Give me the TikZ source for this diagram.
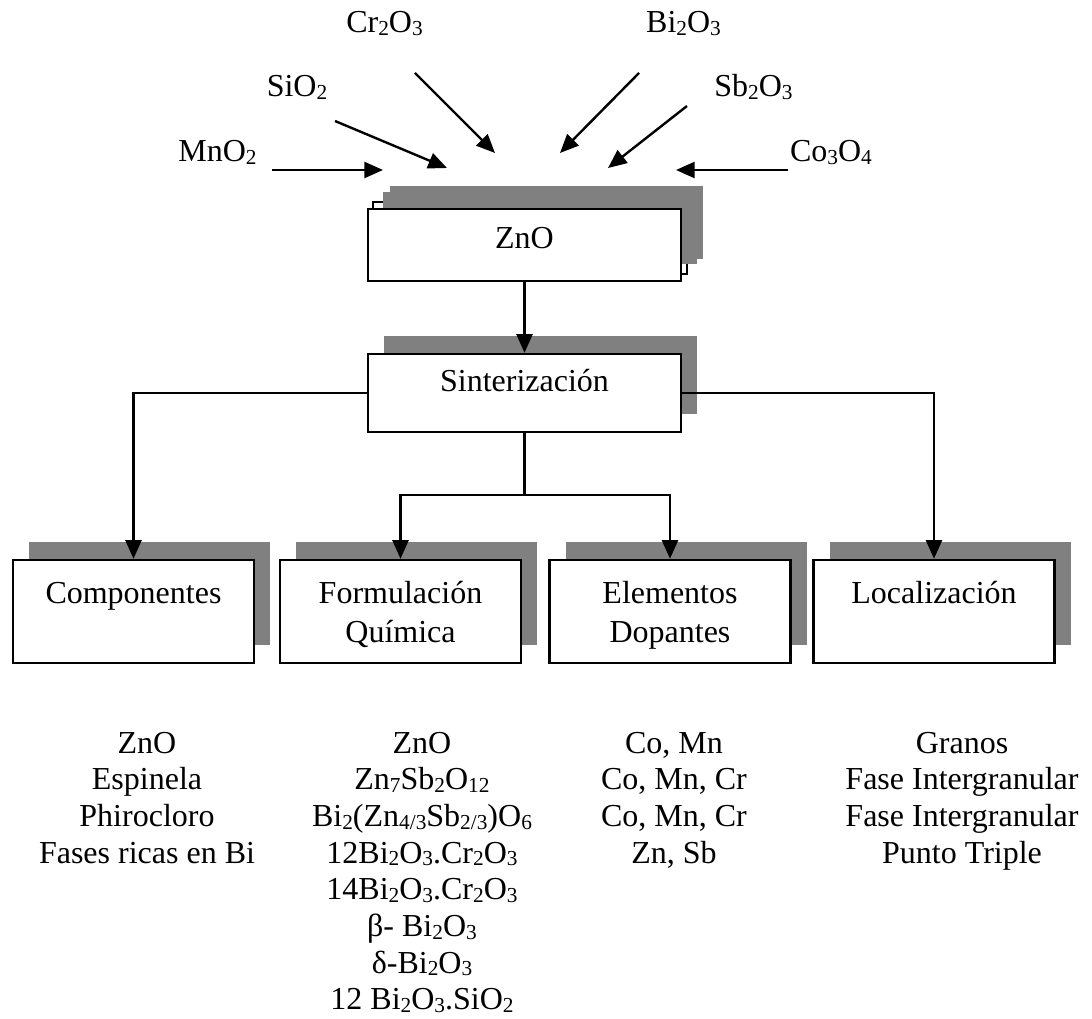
\documentclass[tikz,border=0pt]{standalone}
\usepackage{fontspec}
\setmainfont{Liberation Serif}
\usetikzlibrary{arrows.meta,shadows}
% chemical subscript: smaller digits, slightly lowered
\newcommand\chsub[1]{\raisebox{-2.2pt}{\fontsize{16}{16}\selectfont #1}}
\newcommand\stack[1]{\begin{tabular}[t]{@{}c@{}}#1\end{tabular}}
\begin{document}
\begin{tikzpicture}[x=0.75pt,y=-0.75pt,
  every node/.style={inner sep=0pt},
  lbl/.style={font=\fontsize{24}{29}\selectfont, anchor=base},
  col/.style={font=\fontsize{24}{27.5}\selectfont, anchor=base},
  box/.style={draw=black, line width=1.8pt, fill=white,
    font=\fontsize{24}{29.25}\selectfont},
  shadowed/.style={general shadow={fill=gray, shadow xshift=12pt, shadow yshift=13.5pt}},
  bigbox/.style={box, minimum width=234.75pt},
  smallbox/.style={box, shadowed, minimum width=180.75pt, text height=32.25pt, text depth=45pt},
  link/.style={line width=1.8pt, -{Triangle[length=14pt,width=12pt]}},
  plain/.style={line width=1.8pt},
]
\useasboundingbox (0,0) rectangle (1092,1019);

% stacked layers behind the ZnO box
\draw[line width=1pt, fill=white] (373,202) rectangle (687,274);
\fill[gray] (390,186) rectangle (703,259);
\fill[gray] (383,192) rectangle (697,264);
\node[bigbox, text height=30pt, text depth=24pt] (zno) at (524.5,245) {ZnO};

\node[bigbox, shadowed, text height=28.5pt, text depth=30pt] (sint) at (524.5,393) {Sinterización};

% result categories
\node[smallbox] (comp) at (133.5,611.5) {Componentes};
\node[smallbox] (form) at (400.5,611.5) {\stack{Formulación\\Química}};
\node[smallbox] (elem) at (670,611.5) {\stack{Elementos\\Dopantes}};
\node[smallbox] (loc) at (934,611.5) {Localización};

% additive oxides
\node[lbl] (mno) at (217.5,162) {MnO\chsub{2}};
\node[lbl] (sio) at (297,97) {SiO\chsub{2}};
\node[lbl] (cro) at (384.5,33) {Cr\chsub{2}O\chsub{3}};
\node[lbl] (bio) at (683.5,33) {Bi\chsub{2}O\chsub{3}};
\node[lbl] (sbo) at (753.5,97) {Sb\chsub{2}O\chsub{3}};
\node[lbl] (coo) at (831,162) {Co\chsub{3}O\chsub{4}};

\coordinate (mnA) at (272,170); \coordinate (mnB) at (383,170);
\coordinate (siA) at (335,121); \coordinate (siB) at (447,168);
\coordinate (crA) at (415,73);  \coordinate (crB) at (495,153);
\coordinate (biA) at (639,73);  \coordinate (biB) at (560,153);
\coordinate (sbA) at (687,106); \coordinate (sbB) at (608,168);
\coordinate (coA) at (788,170); \coordinate (coB) at (676,170);
\draw[link] (mnA) -- (mnB);
\draw[link] (siA) -- (siB);
\draw[link] (crA) -- (crB);
\draw[link] (biA) -- (biB);
\draw[link] (sbA) -- (sbB);
\draw[link] (coA) -- (coB);

% connectors
\draw[link] (zno.south) -- (sint.north);
\draw[link] (sint.west) -| (comp.north);
\draw[link] (sint.east) -| (loc.north);
\coordinate (split) at (524.5,495);
\draw[plain] (sint.south) -- (split);
\draw[link] (split) -| (form.north);
\draw[link] (split) -| (elem.north);

% lists under each category
\node[col] (lcomp) at (147,753) {\stack{ZnO\\Espinela\\Phirocloro\\Fases ricas en Bi}};
\node[col] (lform) at (422,753) {\stack{ZnO\\
  Zn\chsub{7}Sb\chsub{2}O\chsub{12}\\
  Bi\chsub{2}(Zn\chsub{4/3}Sb\chsub{2/3})O\chsub{6}\\
  12Bi\chsub{2}O\chsub{3}.Cr\chsub{2}O\chsub{3}\\
  14Bi\chsub{2}O\chsub{3}.Cr\chsub{2}O\chsub{3}\\
  β- Bi\chsub{2}O\chsub{3}\\
  δ-Bi\chsub{2}O\chsub{3}\\
  12 Bi\chsub{2}O\chsub{3}.SiO\chsub{2}}};
\node[col] (lelem) at (674,753) {\stack{Co, Mn\\Co, Mn, Cr\\Co, Mn, Cr\\Zn, Sb}};
\node[col] (lloc) at (962,753) {\stack{Granos\\Fase Intergranular\\Fase Intergranular\\Punto Triple}};
\end{tikzpicture}
\end{document}
